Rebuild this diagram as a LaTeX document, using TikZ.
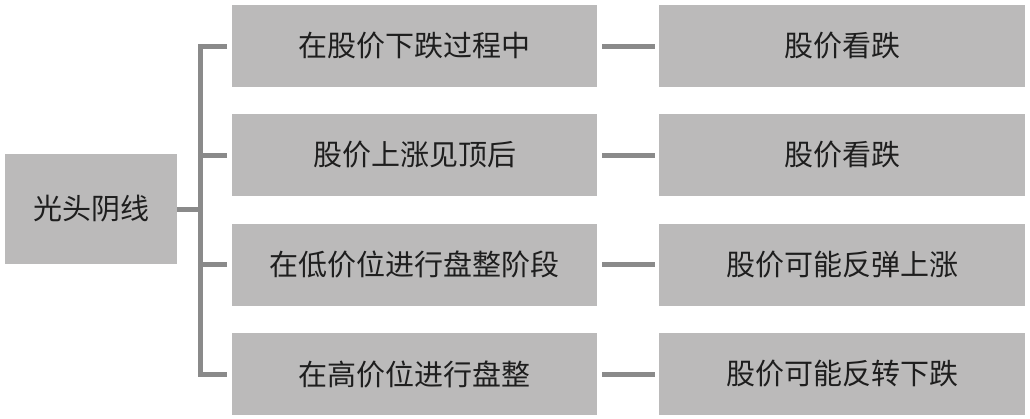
\documentclass[tikz,border=0pt]{standalone}
\usepackage{fontspec}
\setmainfont{Noto Sans CJK SC}
\definecolor{boxgray}{RGB}{187,186,186}
\definecolor{linegray}{RGB}{138,138,138}
\definecolor{txt}{RGB}{30,30,30}
\begin{document}
\begin{tikzpicture}[x=1pt,y=-1pt,
  gbox/.style={fill=boxgray,draw=none,inner sep=0pt,outer sep=0pt,text=txt,
    font=\fontsize{29}{33}\selectfont},
  midbox/.style={gbox,minimum width=365pt,minimum height=82pt},
  conn/.style={draw=linegray,line width=5pt}]
\useasboundingbox (0,0) rectangle (1030,418);
\node[gbox,minimum width=172pt,minimum height=110pt] (L) at (91,209) {光头阴线};
\node[midbox] (m1) at (414.5,46) {在股价下跌过程中};
\node[midbox] (m2) at (414.5,155) {股价上涨见顶后};
\node[midbox] (m3) at (414.5,264.5) {在低价位进行盘整阶段};
\node[midbox] (m4) at (414.5,374) {在高价位进行盘整};
\node[midbox,minimum width=366pt] (r1) at (842,46) {股价看跌};
\node[midbox,minimum width=366pt] (r2) at (842,155) {股价看跌};
\node[midbox,minimum width=366pt] (r3) at (842,264.5) {股价可能反弹上涨};
\node[midbox,minimum width=366pt] (r4) at (842,374) {股价可能反转下跌};
\coordinate (bx) at (200.5,0);
\draw[conn] (L.east) -- (L.east -| bx);
\draw[conn] ([xshift=-5pt]m1.west) -- (m1.west -| bx) -- (m4.west -| bx) -- ([xshift=-5pt]m4.west);
\draw[conn] ([xshift=-5pt]m2.west) -- (m2.west -| bx);
\draw[conn] ([xshift=-5pt]m3.west) -- (m3.west -| bx);
\foreach \i in {1,2,3,4}{
  \draw[conn] ([xshift=5pt]m\i.east) -- ([xshift=-4pt]r\i.west);
}
\end{tikzpicture}
\end{document}
